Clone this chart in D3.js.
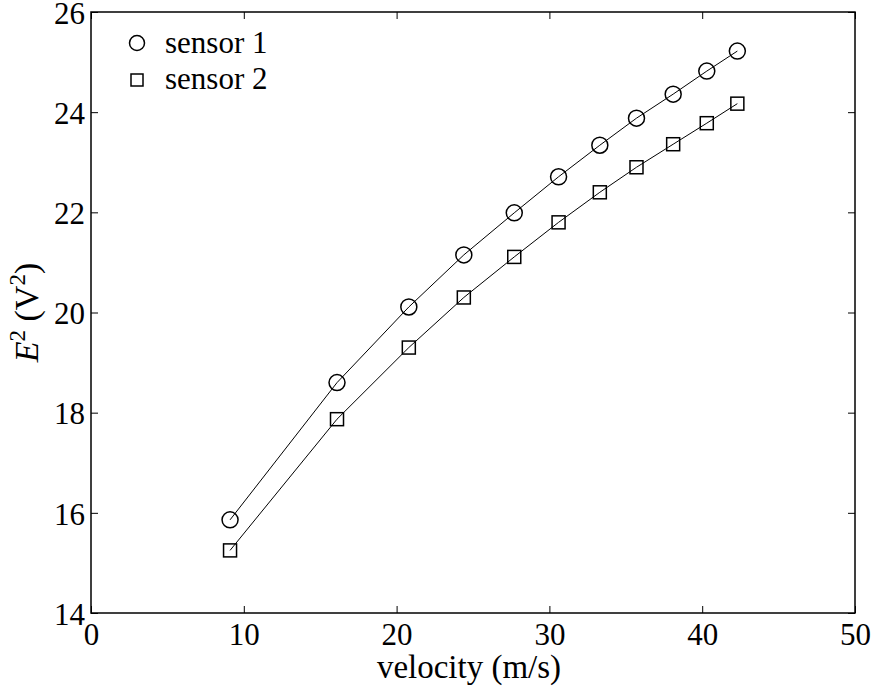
<!DOCTYPE html>
<html>
<head>
<meta charset="utf-8">
<script src="https://cdn.jsdelivr.net/npm/d3@7"></script>
<style>
  body { margin: 0; background: #fff; }
  text { font-family: 'Liberation Serif', 'Times New Roman', serif; fill: #000; }
</style>
</head>
<body>
<div id="chart"></div>
<script>
const velocity = [9.1, 16.1, 20.8, 24.4, 27.7, 30.6, 33.3, 35.7, 38.1, 40.3, 42.3];
const sensor1 = [15.86, 18.6, 20.11, 21.15, 21.99, 22.71, 23.34, 23.88, 24.36, 24.82, 25.22];
const sensor2 = [15.25, 17.87, 19.3, 20.3, 21.11, 21.8, 22.4, 22.9, 23.36, 23.78, 24.17];
const xTicks = [0, 10, 20, 30, 40, 50];
const yTicks = [14, 16, 18, 20, 22, 24, 26];

const W = 877, H = 691;
const margin = { top: 12, right: 22, bottom: 78, left: 91 };
const width = W - margin.left - margin.right;
const height = H - margin.top - margin.bottom;

const svg = d3.select('#chart').append('svg')
  .attr('width', W).attr('height', H);
const g = svg.append('g').attr('transform', `translate(${margin.left},${margin.top})`);

const x = d3.scaleLinear().domain([0, 50]).range([0, width]);
const y = d3.scaleLinear().domain([14, 26]).range([height, 0]);

// axes, ticks pointing inward on all four sides
const tickLen = 7;
g.append('g').attr('transform', `translate(0,${height})`)
  .call(d3.axisBottom(x).tickValues(xTicks).tickSize(-tickLen).tickPadding(10))
  .call(a => a.selectAll('text').style('font-size', '31px').attr('dy', '0.72em'));
g.append('g').attr('transform', 'translate(0,0)')
  .call(d3.axisTop(x).tickValues(xTicks).tickSize(-tickLen).tickFormat(''));
g.append('g')
  .call(d3.axisLeft(y).tickValues(yTicks).tickSize(-tickLen).tickPadding(6))
  .call(a => a.selectAll('text').style('font-size', '31px').attr('dy', '0.36em'));
g.append('g').attr('transform', `translate(${width},0)`)
  .call(d3.axisRight(y).tickValues(yTicks).tickSize(-tickLen).tickFormat(''));

g.selectAll('.domain').remove();
g.selectAll('.tick line').attr('stroke', '#000').attr('stroke-width', 1);
g.append('rect').attr('width', width).attr('height', height)
  .attr('fill', 'none').attr('stroke', '#000').attr('stroke-width', 1.5);

const line = d3.line().x(d => x(d[0])).y(d => y(d[1]));
const s1 = velocity.map((v, i) => [v, sensor1[i]]);
const s2 = velocity.map((v, i) => [v, sensor2[i]]);

[s1, s2].forEach(s => {
  g.append('path').datum(s).attr('d', line)
    .attr('fill', 'none').attr('stroke', '#000').attr('stroke-width', 1);
});

const r = 8, sq = 13;
g.append('g').selectAll('circle').data(s1).enter().append('circle')
  .attr('cx', d => x(d[0])).attr('cy', d => y(d[1])).attr('r', r)
  .attr('fill', 'none').attr('stroke', '#000').attr('stroke-width', 1.5);
g.append('g').selectAll('rect').data(s2).enter().append('rect')
  .attr('x', d => x(d[0]) - sq / 2).attr('y', d => y(d[1]) - sq / 2)
  .attr('width', sq).attr('height', sq)
  .attr('fill', 'none').attr('stroke', '#000').attr('stroke-width', 1.5);

// legend
const leg = svg.append('g');
leg.append('circle').attr('cx', 137).attr('cy', 43).attr('r', 7.5)
  .attr('fill', 'none').attr('stroke', '#000').attr('stroke-width', 1.5);
leg.append('rect').attr('x', 131).attr('y', 74).attr('width', 12).attr('height', 12)
  .attr('fill', 'none').attr('stroke', '#000').attr('stroke-width', 1.5);
leg.append('text').attr('x', 165).attr('y', 53).style('font-size', '31px').text('sensor 1');
leg.append('text').attr('x', 165).attr('y', 89).style('font-size', '31px').text('sensor 2');

// axis labels
svg.append('text').attr('x', margin.left + width / 2 - 4).attr('y', 678)
  .attr('text-anchor', 'middle').style('font-size', '33px').text('velocity (m/s)');

const yl = svg.append('text')
  .attr('transform', `translate(38,${margin.top + height / 2}) rotate(-90)`)
  .attr('text-anchor', 'middle').style('font-size', '34px');
yl.append('tspan').style('font-style', 'italic').text('E');
yl.append('tspan').attr('dy', -13).style('font-size', '23px').text('2');
yl.append('tspan').attr('dy', 13).text(' (V');
yl.append('tspan').attr('dy', -13).style('font-size', '23px').text('2');
yl.append('tspan').attr('dy', 13).text(')');
</script>
</body>
</html>
